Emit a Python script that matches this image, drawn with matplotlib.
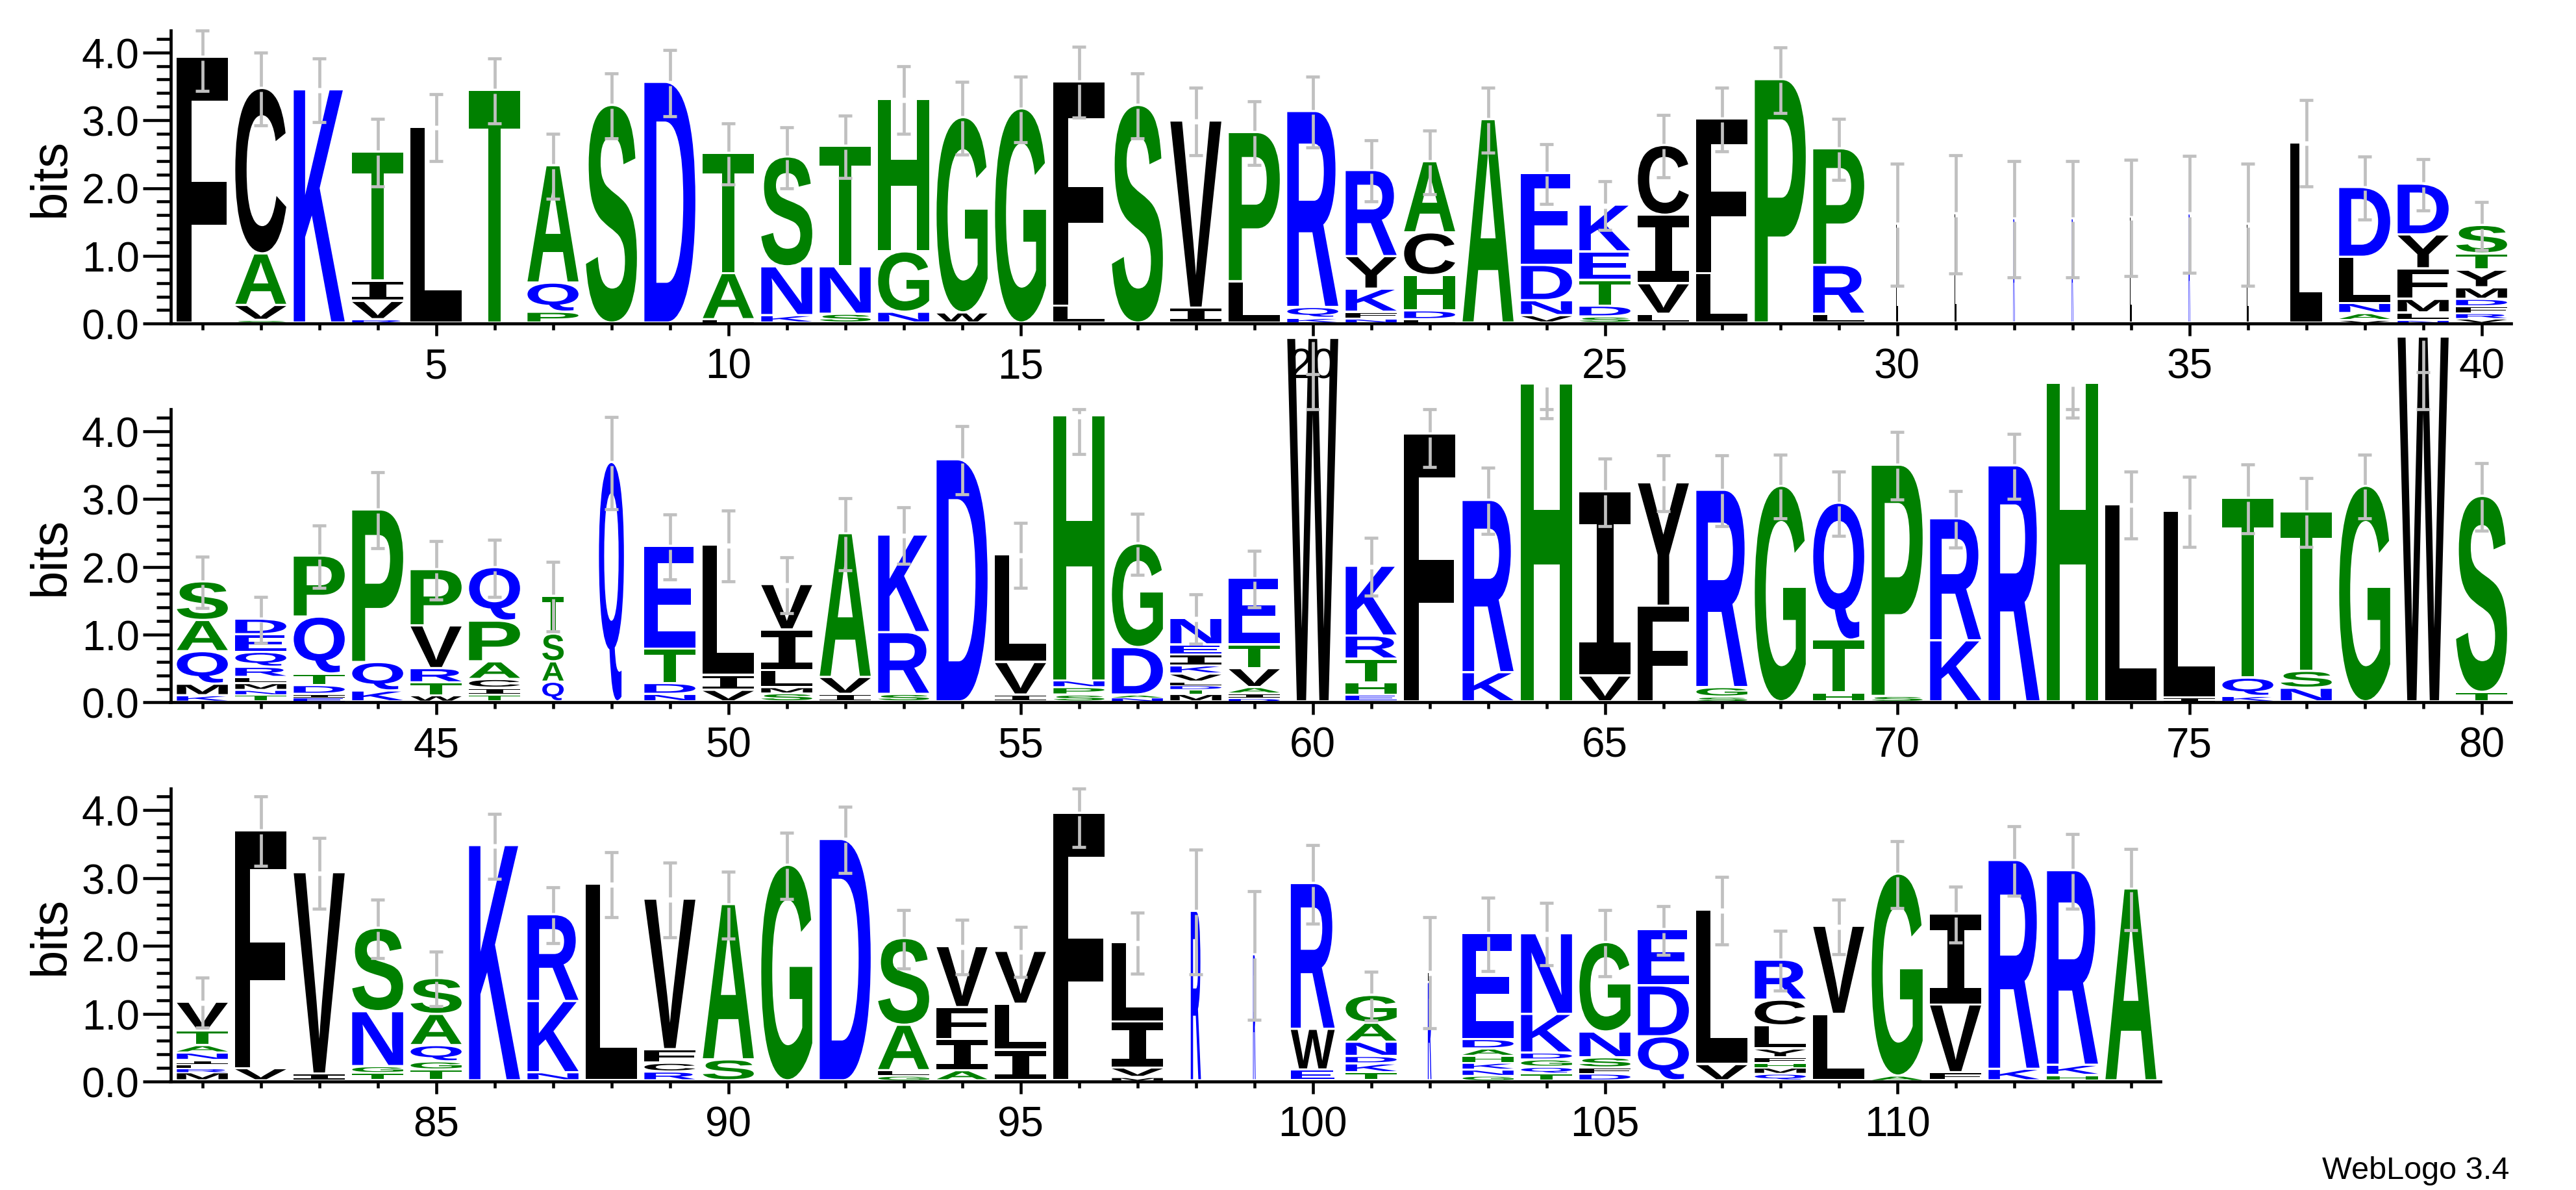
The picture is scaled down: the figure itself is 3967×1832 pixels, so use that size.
import numpy as np
import matplotlib
matplotlib.use('Agg')
import matplotlib.pyplot as plt
from matplotlib.textpath import TextPath
from matplotlib.patches import PathPatch
from matplotlib.font_manager import FontProperties
import matplotlib.transforms as mtransforms

plt.rcParams['font.family'] = ['Liberation Sans', 'DejaVu Sans']

# ---------------- data (letters listed bottom -> top) ----------------
r1_first = 1
r1_letters = ["F", "SVAC", "K", "RVIT", "L", "T", "PQA", "S", "D", "LAT", "KNS", "SNT", "NGH", "WG",
              "G", "LF", "S", "IV", "LP", "KQR", "NFKYR", "LDHCA", "A", "VNDE", "SDTEK", "LVIC", "LF",
              "P", "LRP", "L", "L", "R", "R", "L", "R", "L", "L", "VANLD", "NLMFYD", "VRFDMYTS"]
r1_heights = [[3.92], [0.04, 0.22, 0.76, 2.44], [3.44], [0.05, 0.27, 0.30, 1.90], [2.89], [3.43],
              [0.16, 0.43, 1.73], [3.21], [3.55], [0.05, 0.68, 1.77], [0.11, 0.72, 1.62],
              [0.13, 0.70, 1.78], [0.16, 0.89, 2.25], [0.15, 2.88], [3.16], [0.25, 3.31], [3.21],
              [0.22, 2.76], [0.61, 2.20], [0.07, 0.16, 2.89], [0.06, 0.10, 0.34, 0.48, 1.27],
              [0.05, 0.13, 0.52, 0.63, 1.05], [3.00], [0.11, 0.22, 0.52, 1.36],
              [0.09, 0.16, 0.38, 0.42, 0.69], [0.13, 0.45, 1.01, 1.03], [0.73, 2.28], [3.59],
              [0.13, 0.72, 1.72], [1.46], [1.61], [1.54], [1.54], [1.56], [1.61], [1.46], [2.66],
              [0.04, 0.10, 0.15, 0.68, 1.03], [0.04, 0.11, 0.20, 0.45, 0.50, 0.75],
              [0.06, 0.08, 0.10, 0.11, 0.17, 0.26, 0.24, 0.42]]
r1_errors = [0.49, 0.54, 0.47, 0.50, 0.49, 0.48, 0.48, 0.48, 0.49, 0.45, 0.45, 0.46, 0.50, 0.54,
             0.48, 0.52, 0.48, 0.50, 0.47, 0.52, 0.45, 0.47, 0.48, 0.44, 0.36, 0.46, 0.47, 0.48,
             0.45, 0.90, 0.87, 0.86, 0.86, 0.86, 0.86, 0.90, 0.64, 0.46, 0.38, 0.35]

r2_first = 41
r2_letters = ["KMQAS", "TNMLRQED", "EIDTQP", "KQP", "WTRVP", "TICAPQ", "QAST", "Q", "NDTE", "VIL",
              "SMLIV", "IVA", "SRK", "D", "IVL", "SPNH", "NADG", "MTDLVKIEN", "DIAVTE", "W",
              "EHTRK", "F", "KR", "H", "VI", "FY", "SGR", "G", "HTQ", "SP", "KR", "R", "H", "L",
              "IL", "KQT", "NST", "G", "W", "TS"]
r2_heights = [[0.09, 0.17, 0.48, 0.46, 0.57], [0.10, 0.07, 0.10, 0.09, 0.15, 0.22, 0.26, 0.23],
              [0.06, 0.05, 0.13, 0.17, 0.84, 0.90], [0.16, 0.42, 2.25], [0.09, 0.19, 0.21, 0.63, 0.83],
              [0.10, 0.10, 0.13, 0.26, 0.60, 0.79], [0.29, 0.30, 0.41, 0.56], [3.53],
              [0.11, 0.16, 0.51, 1.51], [0.17, 0.22, 1.92], [0.12, 0.09, 0.25, 0.60, 0.67],
              [0.11, 0.25, 2.12], [0.11, 0.91, 1.44], [3.57], [0.10, 0.48, 1.59],
              [0.10, 0.11, 0.10, 3.91], [0.06, 0.04, 0.70, 1.53],
              [0.11, 0.07, 0.06, 0.05, 0.12, 0.12, 0.16, 0.15, 0.39],
              [0.05, 0.07, 0.09, 0.28, 0.35, 0.98], [5.36], [0.10, 0.18, 0.35, 0.34, 1.03], [3.95],
              [0.43, 2.54], [4.69], [0.38, 2.72], [1.41, 1.82], [0.07, 0.14, 2.91], [3.18],
              [0.13, 0.78, 2.02], [0.08, 3.41], [0.90, 1.80], [3.48], [4.70], [2.91], [0.06, 2.75],
              [0.08, 0.27, 2.65], [0.20, 0.25, 2.35], [3.18], [5.38], [0.14, 2.89]]
r2_errors = [0.38, 0.34, 0.46, 0.56, 0.43, 0.42, 0.51, 0.68, 0.48, 0.52, 0.41, 0.53, 0.42, 0.50,
             0.48, 0.56, 0.45, 0.36, 0.42, 0.52, 0.43, 0.48, 0.49, 0.50, 0.50, 0.41, 0.52, 0.47,
             0.47, 0.50, 0.42, 0.48, 0.50, 0.49, 0.52, 0.51, 0.51, 0.47, 0.51, 0.50]

r3_first = 81
r3_letters = ["MRLINATV", "VF", "IV", "TGNS", "TGQAS", "K", "NKR", "L", "RCFV", "SA", "G", "D",
              "GLAS", "AIFV", "ILV", "F", "MVIL", "R", "R", "EWR", "TKDNAG", "RL", "GNKHADE",
              "TQGDKN", "DFSNG", "QDE", "VL", "QMHFYLCR", "LV", "AG", "FVI", "KR", "HKR", "A"]
r3_heights = [[0.12, 0.06, 0.06, 0.06, 0.11, 0.11, 0.22, 0.42], [0.18, 3.51], [0.10, 2.97],
              [0.11, 0.10, 0.81, 1.23], [0.16, 0.12, 0.24, 0.46, 0.53], [3.47], [0.12, 1.05, 1.28],
              [2.90], [0.13, 0.13, 0.20, 2.22], [0.31, 2.29], [3.18], [3.56], [0.07, 0.08, 0.67, 1.28],
              [0.15, 0.46, 0.47, 0.90], [0.45, 0.68, 0.78], [3.95], [0.05, 0.14, 0.68, 1.17], [2.50],
              [1.86], [0.16, 0.60, 2.15], [0.12, 0.13, 0.11, 0.21, 0.28, 0.41], [1.45, 0.15],
              [0.07, 0.09, 0.10, 0.10, 0.11, 0.14, 1.56], [0.10, 0.10, 0.11, 0.10, 0.57, 1.19],
              [0.10, 0.09, 0.15, 0.38, 1.32], [0.65, 0.75, 0.83], [0.24, 2.28],
              [0.10, 0.09, 0.07, 0.08, 0.13, 0.34, 0.38, 0.59], [0.98, 1.30], [0.07, 2.98],
              [0.12, 1.00, 1.34], [0.17, 3.08], [0.08, 0.15, 2.87], [2.83]]
r3_errors = [0.37, 0.51, 0.52, 0.43, 0.40, 0.48, 0.41, 0.48, 0.55, 0.49, 0.49, 0.49, 0.43, 0.40,
             0.37, 0.49, 0.45, 0.92, 0.95, 0.58, 0.36, 0.82, 0.54, 0.46, 0.49, 0.36, 0.50, 0.44,
             0.40, 0.49, 0.41, 0.51, 0.55, 0.60]

# fraction of full stack width (occupancy) where it differs from 1
column_width = {30: 0.03, 31: 0.03, 32: 0.03, 33: 0.03, 34: 0.03, 35: 0.03, 36: 0.03, 37: 0.62,
                47: 0.42, 48: 0.49, 98: 0.2, 99: 0.05, 100: 0.86, 102: 0.07}

ymax_bits = 4.32
y_major = [0, 1, 2, 3, 4]
y_major_labels = ["0.0", "1.0", "2.0", "3.0", "4.0"]

# ---------------- styling ----------------
GREEN, BLUE, BLACK = '#008000', '#0000ff', '#000000'
COLORS = {}
for c in "GSTHAP":
    COLORS[c] = GREEN
for c in "RKDENQ":
    COLORS[c] = BLUE
for c in "YVMCLFIW":
    COLORS[c] = BLACK
EB_COLOR = '#c0c0c0'
EB_LW = 3.4
CAP_W = 0.235
EB_GAP = 0.037
LETTER_W = 0.872
LETTER_GAP = 0.033

W_PX, H_PX = 3967, 1833
PX_PER_BIT = 104.4
COL_PX = 90.0
SPINE_X = 262.5
ZERO_Y = [499.3, 1082.4, 1665.9]

fig = plt.figure(figsize=(W_PX / 100, H_PX / 100), dpi=100)

fp_bold = FontProperties(family='Liberation Sans', weight='bold')
fp_I = FontProperties(family='DejaVu Sans Mono', weight='bold')
_cache = {}


def glyph(ch):
    if ch not in _cache:
        fp = fp_I if ch == 'I' else fp_bold
        p = TextPath((0, 0), ch, size=1, prop=fp)
        _cache[ch] = (p, p.get_extents())
    return _cache[ch]


def draw_letter(ax, ch, xc, y0, w, h):
    p, ext = glyph(ch)
    t = (mtransforms.Affine2D().translate(-ext.x0, -ext.y0)
         .scale(w / ext.width, h / ext.height).translate(xc - w / 2, y0))
    patch = PathPatch(t.transform_path(p), facecolor=COLORS[ch], edgecolor='none',
                      lw=0, clip_on=False, zorder=2)
    ax.add_patch(patch)


def draw_errbar(ax, x, h, e):
    lo = h - e
    ct = min(h + e, ymax_bits)
    hi_vis = min(h + e, max(h, ymax_bits))
    for a, b in ((min(lo, ct), h - EB_GAP), (h + EB_GAP, hi_vis)):
        if b > a:
            ax.plot([x, x], [a, b], color=EB_COLOR, lw=EB_LW, solid_capstyle='butt',
                    clip_on=False, zorder=4)
    for yc in (lo, ct):
        ax.plot([x - CAP_W / 2, x + CAP_W / 2], [yc, yc], color=EB_COLOR, lw=EB_LW,
                solid_capstyle='butt', clip_on=False, zorder=4)


def make_row(i, first, letters, heights, errors):
    last = first + len(letters) - 1
    xmin = first - (311.6 - SPINE_X) / COL_PX
    xmax = last + 0.5
    left = SPINE_X / W_PX
    width = (xmax - xmin) * COL_PX / W_PX
    bottom = (H_PX - ZERO_Y[i]) / H_PX
    height = ymax_bits * PX_PER_BIT / H_PX
    ax = fig.add_axes([left, bottom, width, height])
    ax.set_xlim(xmin, xmax)
    ax.set_ylim(0, ymax_bits)
    ax.patch.set_alpha(0)
    for s in ('top', 'right'):
        ax.spines[s].set_visible(False)
    for s in ('left', 'bottom'):
        ax.spines[s].set_linewidth(3.4)
        ax.spines[s].set_zorder(3)

    for k, (lets, hs) in enumerate(zip(letters, heights)):
        pos = first + k
        w = LETTER_W * column_width.get(pos, 1.0)
        base = 0.0
        for ch, h in zip(lets, hs):
            gap = min(LETTER_GAP, 0.3 * h)
            draw_letter(ax, ch, pos, base + gap, w, h - gap)
            base += h
        draw_errbar(ax, pos, sum(hs), errors[k])

    ax.set_yticks(y_major)
    ax.set_yticklabels(y_major_labels)
    ax.set_yticks([v for v in np.round(np.arange(0.2, 4.3, 0.2), 1) if v not in y_major], minor=True)
    majors = [p for p in range(first, last + 1) if p % 5 == 0]
    ax.set_xticks(majors)
    ax.set_xticklabels([str(p) for p in majors])
    ax.set_xticks(list(range(first, last + 1)), minor=True)
    ax.tick_params(axis='y', which='major', direction='out', length=31, width=3.3,
                   labelsize=46, pad=3.5)
    ax.tick_params(axis='y', which='minor', direction='out', length=15.5, width=3.3)
    ax.tick_params(axis='x', which='major', direction='out', length=14, width=3.3,
                   labelsize=46, pad=12)
    ax.tick_params(axis='x', which='minor', direction='out', length=7, width=3.3)
    # y-axis label
    yc = ZERO_Y[i] - ymax_bits * PX_PER_BIT / 2
    fig.text(78 / W_PX, (H_PX - yc) / H_PX, 'bits', rotation=90, ha='center', va='center',
             fontsize=56)
    return ax


make_row(0, r1_first, r1_letters, r1_heights, r1_errors)
make_row(1, r2_first, r2_letters, r2_heights, r2_errors)
make_row(2, r3_first, r3_letters, r3_heights, r3_errors)

fig.text(3864 / W_PX, (H_PX - 1815) / H_PX, 'WebLogo 3.4', ha='right', va='baseline', fontsize=35)

fig.savefig('out.png', dpi=100)
